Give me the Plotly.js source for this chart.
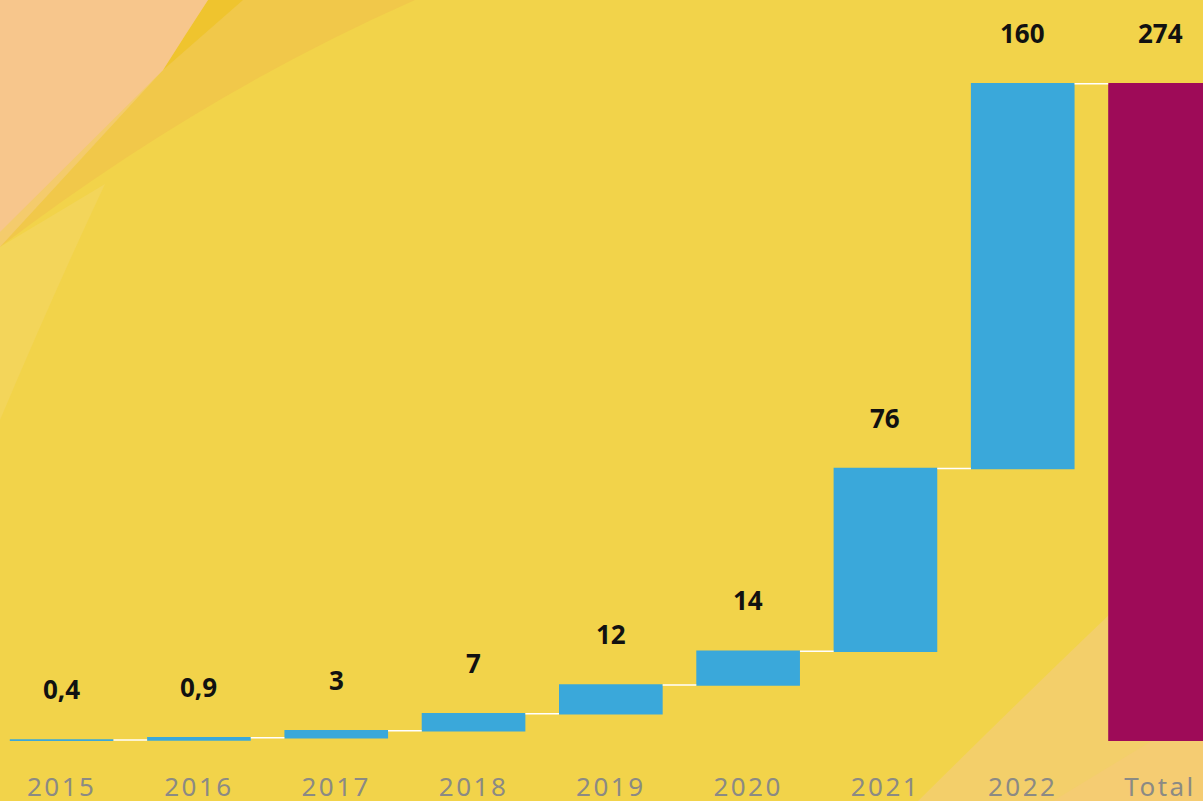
<!DOCTYPE html>
<html>
<head>
<meta charset="utf-8">
<script src="https://cdn.plot.ly/plotly-3.0.1.min.js"></script>
<style>
html,body{margin:0;padding:0;background:#F2D34A;}
#chart{width:1203px;height:801px;}
.xtick text{letter-spacing:2.5px;}
</style>
</head>
<body>
<div id="chart"></div>
<script>
const categories = ['2015','2016','2017','2018','2019','2020','2021','2022','Total'];
const increments = [0.4, 0.9, 3, 7, 12, 14, 76, 160];
const valueLabels = ['0,4','0,9','3','7','12','14','76','160','274'];

const W = 1203, PLOT_H = 741;
// pixel -> paper helpers for decorative background shapes
function P(x, y){ return (x / W).toFixed(4) + ',' + ((PLOT_H - y) / PLOT_H).toFixed(4); }
function path(parts){ return parts.map(p => typeof p === 'string' ? p : P(p[0], p[1])).join(' '); }

const bgShapes = [
  {d: ['M',[0,0],'L',[415,0],'Q',[200,95],[0,247],'Z'], c:'#F1C84A'},
  {d: ['M',[208,0],'L',[243,0],'L',[163,70],'Z'], c:'#EFC42E'},
  {d: ['M',[0,0],'L',[163,70],'L',[0,247],'Z'], c:'#F4CB6C'},
  {d: ['M',[0,0],'L',[208,0],'Q',[185,35],[163,70],'L',[0,232],'Z'], c:'#F7C68C'},
  {d: ['M',[0,247],'L',[105,184],'Q',[55,290],[0,420],'Z'], c:'#F3D55A'},
  {d: ['M',[918,801],'Q',[1020,700],[1111,613],'L',[1203,545],'L',[1203,801],'Z'], c:'#F3CF6A'},
  {d: ['M',[1053,801],'L',[1150,742],'L',[1203,712],'L',[1203,801],'Z'], c:'#F5CC72'}
];

const shapes = bgShapes.map(s => ({
  type:'path', xref:'paper', yref:'paper', layer:'below',
  path: path(s.d), fillcolor: s.c, line:{width:0}
}));

// cumulative tops for label placement
const tops = [];
let run = 0;
increments.forEach(v => { run += v; tops.push(run); });
tops.push(run);

const annotations = categories.map((c, i) => ({
  x: i, y: tops[i], xref:'x', yref:'y', text: valueLabels[i],
  showarrow:false, yanchor:'middle', yshift:51,
  font:{family:'Noto Sans, Open Sans, sans-serif', size:26, color:'#111111', weight:700}
}));

const trace = {
  type:'waterfall',
  x: categories,
  y: increments.concat([0]),
  measure: increments.map(() => 'relative').concat(['total']),
  width: 0.755,
  textposition:'none',
  hoverinfo:'none',
  increasing:{marker:{color:'#3AA8DA', line:{width:0}}},
  decreasing:{marker:{color:'#3AA8DA', line:{width:0}}},
  totals:{marker:{color:'#9E0B58', line:{width:0}}},
  connector:{line:{color:'#FFFFFF', width:1.5}, mode:'between'}
};

const layout = {
  width:1203, height:801,
  margin:{l:0, r:0, t:0, b:60, pad:0},
  paper_bgcolor:'#F2D34A',
  plot_bgcolor:'rgba(0,0,0,0)',
  showlegend:false,
  xaxis:{
    type:'category', range:[-0.449, 8.313], showgrid:false, zeroline:false,
    showline:false, ticks:'', ticklabelstandoff:28,
    tickfont:{family:'Noto Sans, Open Sans, sans-serif', size:26, color:'#8B8A84'},
    fixedrange:true
  },
  yaxis:{
    range:[0, 308.1], visible:false, showgrid:false, zeroline:false, fixedrange:true
  },
  shapes: shapes,
  annotations: annotations
};

Plotly.newPlot('chart', [trace], layout, {displayModeBar:false, staticPlot:true});
</script>
</body>
</html>
